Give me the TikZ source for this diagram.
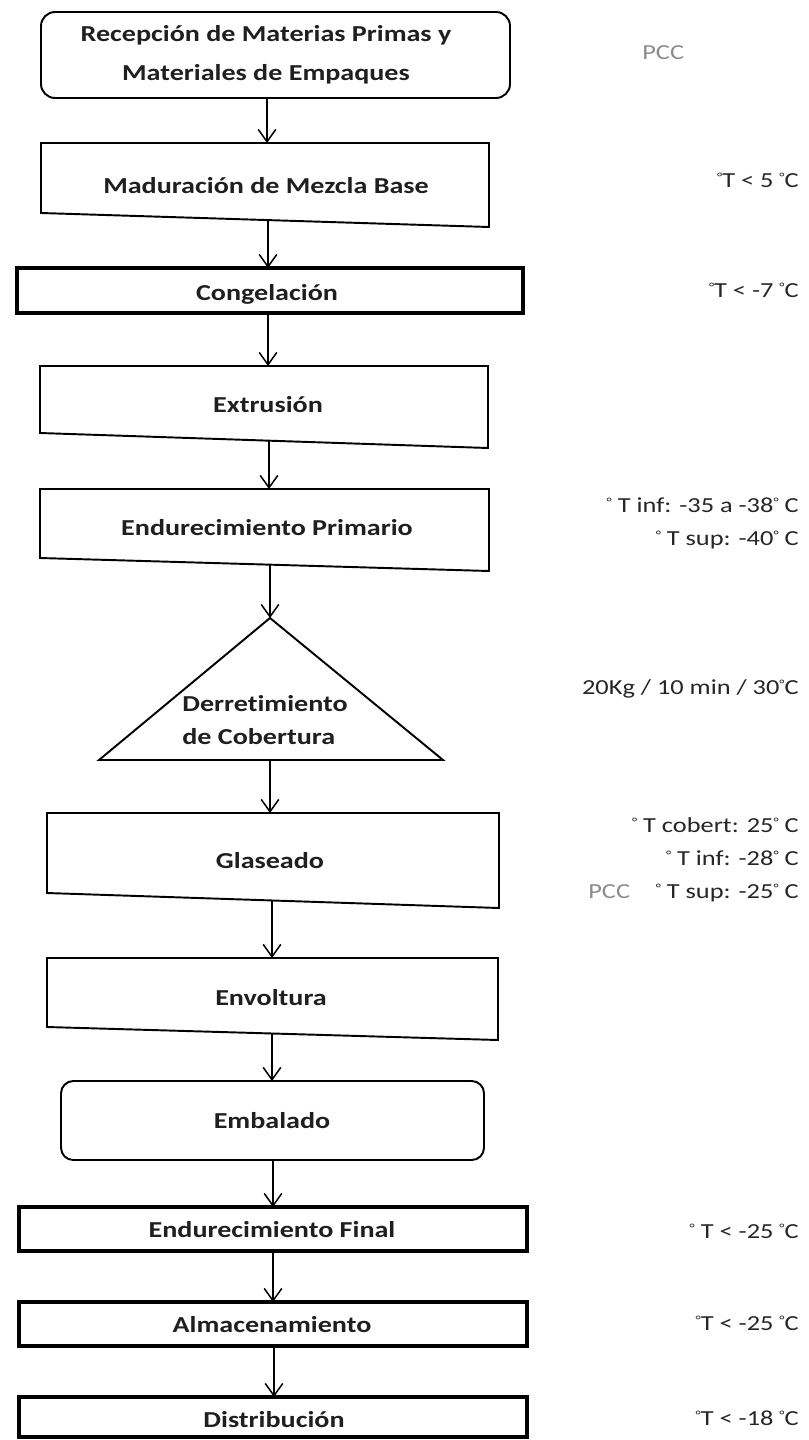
\documentclass[tikz,border=0pt]{standalone}
\usepackage{fontspec}
\setmainfont{Carlito}[FakeStretch=1.23, Ligatures=NoCommon]
\usetikzlibrary{arrows.meta}
\newcommand{\dg}{\raisebox{0.55ex}{\fontsize{7}{7}\selectfont °}}
\begin{document}
\begin{tikzpicture}[x=0.02cm,y=-0.02cm,
  box/.style={draw=black, line width=1.1pt, line join=miter},
  thickbox/.style={draw=black, line width=2pt},
  lbl/.style={font=\bfseries\fontsize{13}{16}\selectfont, text=black!88, inner sep=0pt, anchor=base},
  note/.style={font=\fontsize{12.2}{15}\selectfont, text=black!85, inner sep=0pt, anchor=base east},
  pcc/.style={font=\fontsize{12.2}{15}\selectfont, text=black!45, inner sep=0pt, anchor=base west},
  flow/.style={line width=0.85pt, draw=black, -{Straight Barb[length=7pt,width=10pt,line width=0.85pt]}}]
\useasboundingbox (0,0) rectangle (808,1440);
\fill[white] (0,0) rectangle (808,1440);

% ---------- shapes ----------
\node[box, rounded corners=8pt, minimum width=469*0.02cm, minimum height=86*0.02cm, inner sep=0pt] (rec) at (275.5,55) {};
\draw[box] (41,143) -- (489,143) -- (489,227) -- (41,213) -- cycle;
\node[thickbox, minimum width=506*0.02cm, minimum height=45*0.02cm, inner sep=0pt] (cong) at (270,290.5) {};
\draw[box] (40,366) -- (488,366) -- (488,448) -- (40,433) -- cycle;
\draw[box] (40,489) -- (489,489) -- (489,571) -- (40,558) -- cycle;
\draw[box] (270,618) -- (443,760) -- (99,760) -- cycle;
\draw[box] (47,813) -- (499,813) -- (499,908) -- (47,893) -- cycle;
\draw[box] (47,958) -- (498,958) -- (498,1040) -- (47,1027) -- cycle;
\node[box, rounded corners=7pt, minimum width=423*0.02cm, minimum height=79*0.02cm, inner sep=0pt] (emb) at (272.5,1120.5) {};
\node[thickbox, minimum width=508*0.02cm, minimum height=44*0.02cm, inner sep=0pt] (ef) at (273,1229) {};
\node[thickbox, minimum width=508*0.02cm, minimum height=44*0.02cm, inner sep=0pt] (alm) at (273,1324) {};
\node[thickbox, minimum width=508*0.02cm, minimum height=40*0.02cm, inner sep=0pt] (dist) at (273,1417) {};

% ---------- box texts ----------
\node[lbl, anchor=center, align=center, font=\bfseries\fontsize{13}{22}\selectfont] (rec-t) at (266,55) {Recepción de Materias Primas y\\Materiales de Empaques};
\node[lbl] (mad-t) at (266,193) {Maduración de Mezcla Base};
\node[lbl] (cong-t) at (267,300) {Congelación};
\node[lbl] (ext-t) at (268,412) {Extrusión};
\node[lbl] (endp-t) at (267,535) {Endurecimiento Primario};
\node[lbl, anchor=north west, align=left, font=\bfseries\fontsize{13}{18.7}\selectfont] (der-t) at (182,695) {Derretimiento\\de Cobertura};
\node[lbl] (gla-t) at (270,868) {Glaseado};
\node[lbl] (env-t) at (271,1005) {Envoltura};
\node[lbl] (emb-t) at (272,1128) {Embalado};
\node[lbl] (ef-t) at (272,1237) {Endurecimiento Final};
\node[lbl] (alm-t) at (272,1332) {Almacenamiento};
\node[lbl] (dist-t) at (274,1427) {Distribución};

% ---------- right notes ----------
\node[pcc] (pcc1) at (642,59) {PCC};
\node[note] (n1) at (799,187) {\dg T < 5 \dg C};
\node[note] (n2) at (799,297) {\dg T < -7 \dg C};
\node[note] (n3) at (799,512) {\dg\ T inf: -35 a -38\dg\ C};
\node[note] (n4) at (799,545) {\dg\ T sup: -40\dg\ C};
\node[note] (n5) at (799,694) {20Kg / 10 min / 30\dg C};
\node[note] (n6) at (799,832) {\dg\ T cobert: 25\dg\ C};
\node[note] (n7) at (799,865) {\dg\ T inf: -28\dg\ C};
\node[note] (n8) at (799,898) {\dg\ T sup: -25\dg\ C};
\node[pcc] (pcc2) at (588,898) {PCC};
\node[note] (n9) at (799,1238) {\dg\ T < -25 \dg C};
\node[note] (n10) at (799,1330) {\dg T < -25 \dg C};
\node[note] (n11) at (799,1425) {\dg T < -18 \dg C};

% ---------- connector end points ----------
\coordinate (rec-o) at (267,98);   \coordinate (mad-i) at (267,143);
\coordinate (mad-o) at (268,220);  \coordinate (cong-i) at (268,268);
\coordinate (cong-o) at (268,313); \coordinate (ext-i) at (268,366);
\coordinate (ext-o) at (269,440.7);\coordinate (endp-i) at (269,489);
\coordinate (endp-o) at (270,564.7);\coordinate (der-i) at (270,618);
\coordinate (der-o) at (270,760); \coordinate (gla-i) at (270,813);
\coordinate (gla-o) at (272,900.5);\coordinate (env-i) at (272,958);
\coordinate (env-o) at (272,1033.5);\coordinate (emb-i) at (272,1081);
\coordinate (emb-o) at (273,1160); \coordinate (ef-i) at (273,1207);
\coordinate (ef-o) at (273,1251); \coordinate (alm-i) at (273,1302);
\coordinate (alm-o) at (274,1346); \coordinate (dist-i) at (274,1397);

% ---------- connectors ----------
\draw[flow] (rec-o) -- (mad-i);
\draw[flow] (mad-o) -- (cong-i);
\draw[flow] (cong-o) -- (ext-i);
\draw[flow] (ext-o) -- (endp-i);
\draw[flow] (endp-o) -- (der-i);
\draw[flow] (der-o) -- (gla-i);
\draw[flow] (gla-o) -- (env-i);
\draw[flow] (env-o) -- (emb-i);
\draw[flow] (emb-o) -- (ef-i);
\draw[flow] (ef-o) -- (alm-i);
\draw[flow] (alm-o) -- (dist-i);
\end{tikzpicture}
\end{document}
